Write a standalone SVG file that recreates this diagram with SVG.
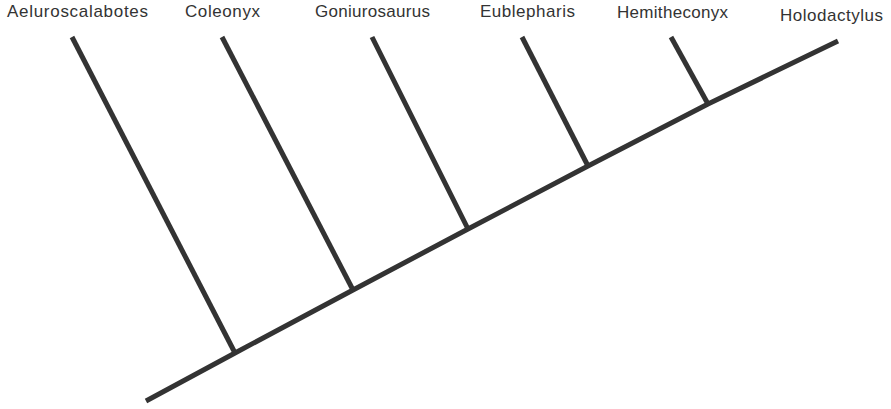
<svg xmlns="http://www.w3.org/2000/svg" width="891" height="409" viewBox="0 0 891 409">
<style>
.lbl{font-family:"Liberation Sans",Arial,sans-serif;font-size:17px;fill:#333}
.br{stroke:#333;stroke-width:5;fill:none;stroke-linecap:butt;stroke-linejoin:round}
</style>
<rect width="891" height="409" fill="#fff"/>
<g id="connectors">
<polyline class="br" points="146,401 235,353 353,290 468,229 588,166 708,104 838,41"/>
<line class="br" x1="72" y1="37" x2="235" y2="353"/>
<line class="br" x1="222" y1="37" x2="353" y2="290"/>
<line class="br" x1="372" y1="37" x2="468" y2="229"/>
<line class="br" x1="522" y1="37" x2="588" y2="166"/>
<line class="br" x1="671" y1="37" x2="708" y2="104"/>
</g>
<g id="Aeluroscalabotes"><text class="lbl" x="7" y="17" textLength="141" lengthAdjust="spacing">Aeluroscalabotes</text></g>
<g id="Coleonyx"><text class="lbl" x="185" y="17" textLength="75" lengthAdjust="spacing">Coleonyx</text></g>
<g id="Goniurosaurus"><text class="lbl" x="315" y="17" textLength="115" lengthAdjust="spacing">Goniurosaurus</text></g>
<g id="Eublepharis"><text class="lbl" x="480" y="17" textLength="95" lengthAdjust="spacing">Eublepharis</text></g>
<g id="Hemitheconyx"><text class="lbl" x="617" y="18" textLength="111" lengthAdjust="spacing">Hemitheconyx</text></g>
<g id="Holodactylus"><text class="lbl" x="780" y="21" textLength="103" lengthAdjust="spacing">Holodactylus</text></g>
</svg>
